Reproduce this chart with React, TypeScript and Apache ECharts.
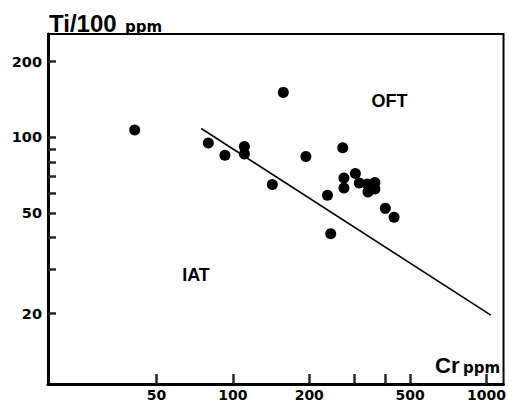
import React, { useEffect, useRef } from "react";
import * as echarts from "echarts";

// Cr (ppm) and Ti/100 (ppm) for each sample
const crPpm = [41, 80, 93, 111, 111, 143, 158, 194, 236, 243, 271, 274, 274, 304, 315, 339, 363, 341, 363, 351, 399, 432];
const tiPer100 = [107, 95, 85, 92, 86, 65, 151, 84, 59, 41.5, 91, 69, 63, 72, 66, 65.3, 66.3, 60.8, 62.4, 63, 52.3, 48.2];

// IAT / OFT discriminant line
const trendCr = [75, 1040];
const trendTi = [108.5, 19.7];

const xTickValues = [50, 100, 200, 300, 400, 500, 1000];
const xLabelValues = [50, 100, 200, 500, 1000];
const yTickValues = [20, 30, 40, 50, 60, 70, 80, 90, 100, 200];
const yLabelValues = [20, 50, 100, 200];
const xRange = [18.66, 1167];
const yRange = [10.5, 257.5];

const lg = (v: number) => Math.log10(v);
const fmt = (v: number) => String(Math.round(Math.pow(10, v)));

export default function App() {
  const ref = useRef<HTMLDivElement>(null);
  useEffect(() => {
    if (!ref.current) return;
    const chart = echarts.init(ref.current, undefined, { renderer: "svg" });
    const labelFont = { fontFamily: "DejaVu Sans", fontWeight: "bold" as const, color: "#000" };
    const ttl = (text: string, left: number, top: number, fontFamily: string, fontSize: number) => ({
      text,
      left,
      top,
      padding: 0,
      textStyle: { fontFamily, fontSize, fontWeight: "bold", color: "#000" },
    });
    const tickColor = "#262626";
    chart.setOption({
      animation: false,
      backgroundColor: "#fff",
      title: [
        ttl("Ti/100", 49, 11.4, "Liberation Sans", 24),
        ttl("ppm", 125, 19, "DejaVu Sans", 15),
        ttl("Cr", 435, 354.4, "Liberation Sans", 22),
        ttl("ppm", 463, 360.3, "DejaVu Sans", 15),
        ttl("OFT", 371.5, 92.2, "Liberation Sans", 18),
        ttl("IAT", 182.2, 266.2, "Liberation Sans", 18),
      ],
      grid: { left: 48, right: 2, top: 34, bottom: 17, show: true, borderColor: "#000", borderWidth: 2 },
      xAxis: {
        type: "value",
        min: lg(xRange[0]),
        max: lg(xRange[1]),
        axisLine: { show: true, lineStyle: { color: "#000", width: 3 } },
        axisTick: { show: true, inside: true, length: 10, lineStyle: { color: tickColor, width: 2.5 }, customValues: xTickValues.map(lg) },
        axisLabel: { ...labelFont, fontSize: 14, margin: 4, customValues: xLabelValues.map(lg), formatter: fmt },
        splitLine: { show: false },
      },
      yAxis: {
        type: "value",
        min: lg(yRange[0]),
        max: lg(yRange[1]),
        axisLine: { show: true, lineStyle: { color: "#000", width: 3 } },
        axisTick: { show: true, inside: true, length: 8, lineStyle: { color: tickColor, width: 2.5 }, customValues: yTickValues.map(lg) },
        axisLabel: { ...labelFont, fontSize: 14.5, margin: 6, customValues: yLabelValues.map(lg), formatter: fmt },
        splitLine: { show: false },
      },
      series: [
        {
          type: "line",
          data: trendCr.map((c, i) => [lg(c), lg(trendTi[i])]),
          symbol: "none",
          lineStyle: { color: "#000", width: 1.6 },
        },
        {
          type: "scatter",
          data: crPpm.map((c, i) => [lg(c), lg(tiPer100[i])]),
          symbolSize: 11,
          itemStyle: { color: "#000", opacity: 1 },
        },
      ],
    });
    return () => chart.dispose();
  }, []);
  return <div ref={ref} style={{ position: "absolute", left: 0, top: 0, width: 509, height: 402 }} />;
}
